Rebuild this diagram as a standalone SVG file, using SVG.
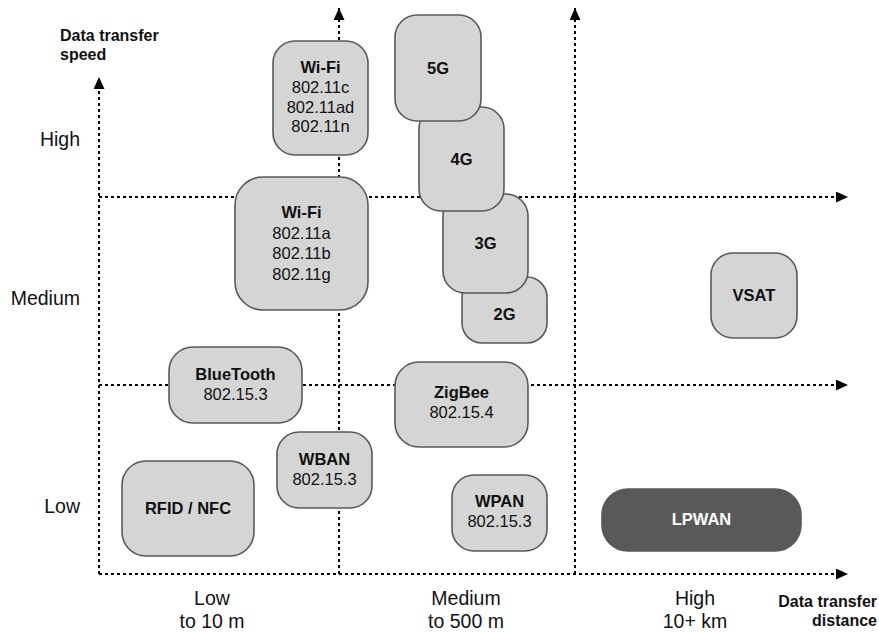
<svg xmlns="http://www.w3.org/2000/svg" width="879" height="632" viewBox="0 0 879 632">
<defs>
<marker id="ah" viewBox="0 0 12 11" refX="12" refY="5.5" markerWidth="12" markerHeight="11" markerUnits="userSpaceOnUse" orient="auto">
<path d="M0,0 L12,5.5 L0,11 Z" fill="#000"/>
</marker>
<style>
.ax{stroke:#000;stroke-width:2;stroke-dasharray:3 3;fill:none}
.arr{marker-end:url(#ah)}
.box{fill:#D5D5D5;stroke:#595959;stroke-width:1.6}
.dark{fill:#595959;stroke:#595959;stroke-width:1.6}
text{font-family:"Liberation Sans",Arial,sans-serif;fill:#111}
.t{font-size:16.5px;text-anchor:middle}
.b{font-weight:bold}
.w{fill:#fff}
.lab{font-size:19.5px}
.e{text-anchor:end}
.m{text-anchor:middle}
.h{font-size:16px;font-weight:bold}
</style>
</defs>
<g id="connectors">
<path class="ax arr" d="M99,574 V77"/>
<path class="ax arr" d="M99,574 H848"/>
<path class="ax arr" d="M339,574 V8"/>
<path class="ax arr" d="M575,574 V8"/>
<path class="ax arr" d="M99,197 H848"/>
<path class="ax arr" d="M99,385 H848"/>
</g>
<g id="wifi-high"><rect class="box" x="273" y="41" width="95" height="114" rx="22"/>
<text class="t b" x="320.5" y="73">Wi-Fi</text><text class="t" x="320.5" y="93">802.11c</text><text class="t" x="320.5" y="113">802.11ad</text><text class="t" x="320.5" y="132">802.11n</text></g>
<g id="wifi-medium"><rect class="box" x="235" y="177" width="133" height="133" rx="28"/>
<text class="t b" x="301.5" y="218">Wi-Fi</text><text class="t" x="301.5" y="239">802.11a</text><text class="t" x="301.5" y="259">802.11b</text><text class="t" x="301.5" y="280">802.11g</text></g>
<g id="n2g"><rect class="box" x="462" y="277" width="85" height="66" rx="20"/><text class="t b" x="504.5" y="320">2G</text></g>
<g id="n3g"><rect class="box" x="443" y="194" width="85" height="99" rx="22"/><text class="t b" x="485.5" y="249">3G</text></g>
<g id="n4g"><rect class="box" x="419" y="107" width="85" height="104" rx="22"/><text class="t b" x="461.5" y="165">4G</text></g>
<g id="n5g"><rect class="box" x="395" y="15" width="86" height="106" rx="22"/><text class="t b" x="438" y="74">5G</text></g>
<g id="vsat"><rect class="box" x="711" y="253" width="86" height="85" rx="22"/><text class="t b" x="754" y="301">VSAT</text></g>
<g id="bluetooth"><rect class="box" x="169" y="347" width="133" height="76" rx="24"/>
<text class="t b" x="235.5" y="380">BlueTooth</text><text class="t" x="235.5" y="400">802.15.3</text></g>
<g id="zigbee"><rect class="box" x="395" y="362" width="133" height="85" rx="24"/>
<text class="t b" x="461.5" y="398">ZigBee</text><text class="t" x="461.5" y="418">802.15.4</text></g>
<g id="wban"><rect class="box" x="277" y="432" width="95" height="76" rx="22"/>
<text class="t b" x="324.5" y="465">WBAN</text><text class="t" x="324.5" y="485">802.15.3</text></g>
<g id="rfid"><rect class="box" x="122" y="461" width="132" height="95" rx="24"/>
<text class="t b" x="188" y="514">RFID / NFC</text></g>
<g id="wpan"><rect class="box" x="452" y="475" width="95" height="76" rx="22"/>
<text class="t b" x="499.5" y="507">WPAN</text><text class="t" x="499.5" y="527">802.15.3</text></g>
<g id="lpwan"><rect class="dark" x="602" y="489" width="199" height="62" rx="26"/>
<text class="t b w" x="701.5" y="525">LPWAN</text></g>
<g id="labels">
<text class="h" x="60" y="41">Data transfer</text>
<text class="h" x="60" y="60">speed</text>
<text class="lab e" x="80" y="146">High</text>
<text class="lab e" x="80" y="305">Medium</text>
<text class="lab e" x="80" y="513">Low</text>
<text class="lab m" x="212" y="605">Low</text>
<text class="lab m" x="212" y="628">to 10 m</text>
<text class="lab m" x="466" y="605">Medium</text>
<text class="lab m" x="466" y="628">to 500 m</text>
<text class="lab m" x="695" y="605">High</text>
<text class="lab m" x="695" y="628">10+ km</text>
<text class="h e" x="877" y="607">Data transfer</text>
<text class="h e" x="877" y="626">distance</text>
</g>
</svg>
